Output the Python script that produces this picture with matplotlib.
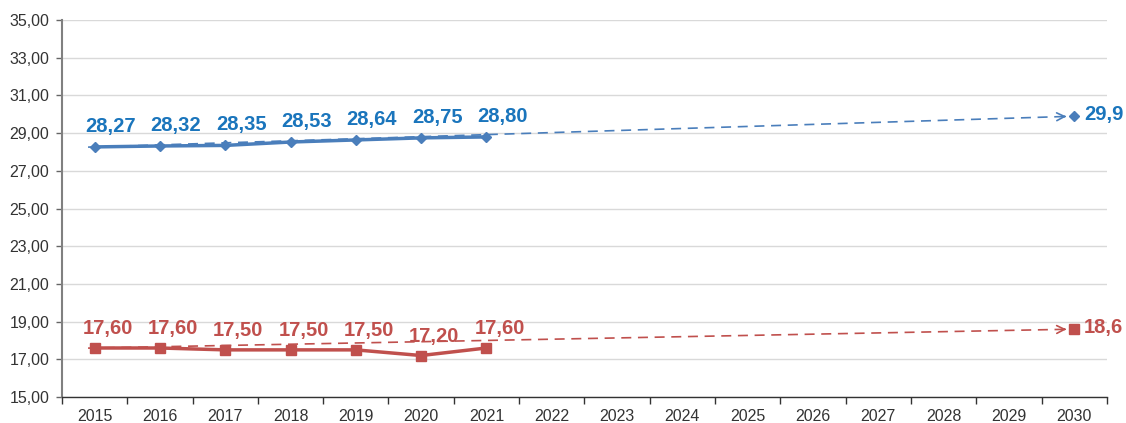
import matplotlib

matplotlib.use("Agg")
import matplotlib.pyplot as plt  # noqa: E402
from matplotlib.ticker import FixedLocator, FuncFormatter  # noqa: E402

years = [str(y) for y in range(2015, 2031)]
blue_years = [2015, 2016, 2017, 2018, 2019, 2020, 2021]
blue_vals = [28.27, 28.32, 28.35, 28.53, 28.64, 28.75, 28.80]
red_vals = [17.60, 17.60, 17.50, 17.50, 17.50, 17.20, 17.60]
blue_target = 29.9
red_target = 18.6
blue_target_label = "29,9"
red_target_label = "18,6"
yticks = [15, 17, 19, 21, 23, 25, 27, 29, 31, 33, 35]

BLUE_LINE = "#4a7ebb"
BLUE_TXT = "#1a75bc"
RED_LINE = "#c0504d"
RED_TXT = "#c0504d"

plt.rcParams["font.family"] = ["Liberation Sans", "DejaVu Sans"]

fig = plt.figure(figsize=(11.26, 4.23), dpi=100)
ax = fig.add_axes([0.055, 0.0615, 0.928, 0.891])

xs = [years.index(str(y)) for y in blue_years]
x_end = years.index("2030")


def fmt(v):
    return f"{v:.2f}".replace(".", ",")


# linhas de tendência (tracejadas) até a meta de 2030
gap = 0.12
for start, target, col in [(blue_vals[0], blue_target, BLUE_LINE),
                           (red_vals[0], red_target, RED_LINE)]:
    x0, x1 = xs[0] - 0.1, x_end - gap
    slope = (target - start) / (x_end - xs[0])
    y0 = start - 0.1 * slope
    y1 = target - gap * slope
    ax.plot([x0, x1], [y0, y1], color=col, lw=1.2, ls=(0, (6, 4)), zorder=2)
    # ponta da seta, sólida
    ax.annotate("", xy=(x1, y1), xytext=(x1 - 0.03, y1 - 0.03 * slope),
                arrowprops=dict(arrowstyle="->", color=col, lw=1.2,
                                shrinkA=0, shrinkB=0, mutation_scale=14),
                zorder=2)

ax.plot(xs, blue_vals, color=BLUE_LINE, lw=2.5, marker="D", ms=5.5, zorder=3)
ax.plot(xs, red_vals, color=RED_LINE, lw=2.5, marker="s", ms=7.5, zorder=3)
ax.plot([x_end], [blue_target], color=BLUE_LINE, marker="D", ms=5.5, zorder=3)
ax.plot([x_end], [red_target], color=RED_LINE, marker="s", ms=7.5, zorder=3)

for x, v in zip(xs, blue_vals):
    ax.annotate(fmt(v), (x, v), xytext=(11.5, 15),
                textcoords="offset points", ha="center", va="center",
                color=BLUE_TXT, fontsize=14.5, fontweight="bold")
for x, v in zip(xs, red_vals):
    ax.annotate(fmt(v), (x, v), xytext=(9.5, 14),
                textcoords="offset points", ha="center", va="center",
                color=RED_TXT, fontsize=14.5, fontweight="bold")
ax.annotate(blue_target_label, (x_end, blue_target), xytext=(7, 1),
            textcoords="offset points", ha="left", va="center",
            color=BLUE_TXT, fontsize=14.5, fontweight="bold",
            annotation_clip=False)
ax.annotate(red_target_label, (x_end, red_target), xytext=(7, 1),
            textcoords="offset points", ha="left", va="center",
            color=RED_TXT, fontsize=14.5, fontweight="bold",
            annotation_clip=False)

ax.set_xlim(-0.5, len(years) - 0.5)
ax.set_ylim(15, 35)
ax.set_yticks(yticks)
ax.yaxis.set_major_formatter(FuncFormatter(lambda v, p: fmt(v)))
ax.set_xticks(range(len(years)))
ax.set_xticklabels(years)
ax.xaxis.set_minor_locator(FixedLocator([i - 0.5 for i in range(len(years) + 1)]))
ax.tick_params(axis="x", which="major", length=0, pad=9, labelsize=11.5, labelcolor="#333333")
ax.tick_params(axis="x", which="minor", length=5, width=1, color="#333333")
ax.tick_params(axis="y", length=4, width=1, color="#666666", labelsize=11.5,
               labelcolor="#333333", pad=5)

ax.grid(axis="y", color="#d9d9d9", lw=1)
ax.set_axisbelow(True)
for s in ["top", "right"]:
    ax.spines[s].set_visible(False)
ax.spines["left"].set_color("#808080")
ax.spines["left"].set_linewidth(1.5)
ax.spines["bottom"].set_color("#333333")
ax.spines["bottom"].set_linewidth(1)

fig.savefig("out.png", dpi=100)
